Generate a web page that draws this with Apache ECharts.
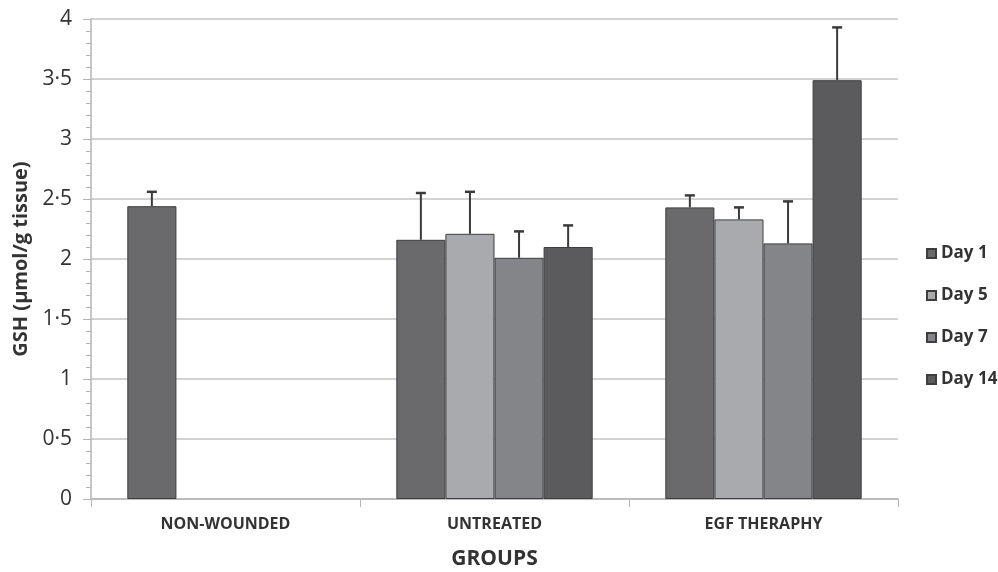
<!DOCTYPE html>
<html><head><meta charset="utf-8">
<script src="https://cdn.jsdelivr.net/npm/echarts@6/dist/echarts.min.js"></script>
<style>html,body{margin:0;padding:0;background:#fff}#c{width:998px;height:572px}</style>
</head><body><div id="c"></div>
<script>
var categories = ['NON-WOUNDED', 'UNTREATED', 'EGF THERAPHY'];
var seriesNames = ['Day 1', 'Day 5', 'Day 7', 'Day 14'];
var day1 = [2.44, 2.16, 2.43];
var day5 = [null, 2.21, 2.33];
var day7 = [null, 2.01, 2.13];
var day14 = [null, 2.10, 3.49];
var err1 = [0.12, 0.39, 0.10];
var err5 = [null, 0.35, 0.10];
var err7 = [null, 0.22, 0.35];
var err14 = [null, 0.18, 0.44];
var yTicks = [0, 0.5, 1, 1.5, 2, 2.5, 3, 3.5, 4];

var colors = ['#6a6a6c', '#a9aaad', '#848588', '#5b5b5d'];
var values = [day1, day5, day7, day14];
var errs = [err1, err5, err7, err14];
var catGap = 0.27;
var font = "'Open Sans', sans-serif";

var series = [];
values.forEach(function (v, i) {
  series.push({
    name: seriesNames[i], type: 'bar', data: v,
    barGap: '0%', barCategoryGap: (catGap * 100) + '%',
    itemStyle: { color: colors[i], borderColor: '#3e3e40', borderWidth: 1 }
  });
});
values.forEach(function (v, i) {
  var d = [];
  v.forEach(function (val, k) { if (val != null) d.push([k, val, errs[i][k]]); });
  series.push({
    type: 'custom', silent: true, z: 5,
    data: d,
    renderItem: function (params, api) {
      var k = api.value(0), val = api.value(1), e = api.value(2);
      var catW = api.size([1, 0])[0];
      var groupW = catW * (1 - catGap);
      var bw = groupW / 4;
      var base = api.coord([k, val]);
      var x = base[0] - groupW / 2 + (i + 0.5) * bw;
      var top = api.coord([k, val + e])[1];
      var st = { stroke: '#3a3a3c', lineWidth: 2 };
      return { type: 'group', children: [
        { type: 'line', shape: { x1: x, y1: base[1], x2: x, y2: top }, style: st },
        { type: 'line', shape: { x1: x - 5, y1: top, x2: x + 5, y2: top }, style: { stroke: '#3a3a3c', lineWidth: 2.5 } }
      ]};
    }
  });
});

var chart = echarts.init(document.getElementById('c'));
chart.setOption({
  animation: false,
  backgroundColor: '#fff',
  grid: { left: 91, right: 100, top: 19, bottom: 73, outerBoundsMode: 'none', containLabel: false },
  legend: {
    data: seriesNames, orient: 'vertical', left: 921, top: 240,
    icon: 'rect', itemWidth: 9, itemHeight: 9, itemGap: 25,
    textStyle: { fontFamily: font, fontWeight: 'bold', fontSize: 17, color: '#333' }
  },
  xAxis: {
    type: 'category', data: categories,
    name: 'GROUPS', nameLocation: 'middle', nameGap: 50,
    nameTextStyle: { fontFamily: font, fontWeight: 'bold', fontSize: 21, color: '#333' },
    axisLine: { lineStyle: { color: '#b5b5b5', width: 1.5 } },
    axisTick: { show: true, length: 8, lineStyle: { color: '#b5b5b5' } },
    axisLabel: { fontFamily: font, fontWeight: 'bold', fontSize: 16, color: '#333', margin: 17 }
  },
  yAxis: {
    type: 'value', min: 0, max: 4, interval: 0.5,
    name: 'GSH (µmol/g tissue)', nameLocation: 'middle', nameGap: 60,
    nameTextStyle: { fontFamily: font, fontWeight: 'bold', fontSize: 20, color: '#333' },
    axisLine: { show: true, lineStyle: { color: '#b5b5b5', width: 1.5 } },
    axisTick: { show: true, length: 8, lineStyle: { color: '#b5b5b5' } },
    minorTick: { show: true, splitNumber: 5, length: 5, lineStyle: { color: '#b5b5b5' } },
    splitLine: { lineStyle: { color: '#c4c4c4', width: 1.5 } },
    axisLabel: {
      fontFamily: font, fontSize: 21, color: '#333', margin: 19,
      formatter: function (v) { return String(v).replace('.', '·'); }
    }
  },
  series: series
});
</script></body></html>
